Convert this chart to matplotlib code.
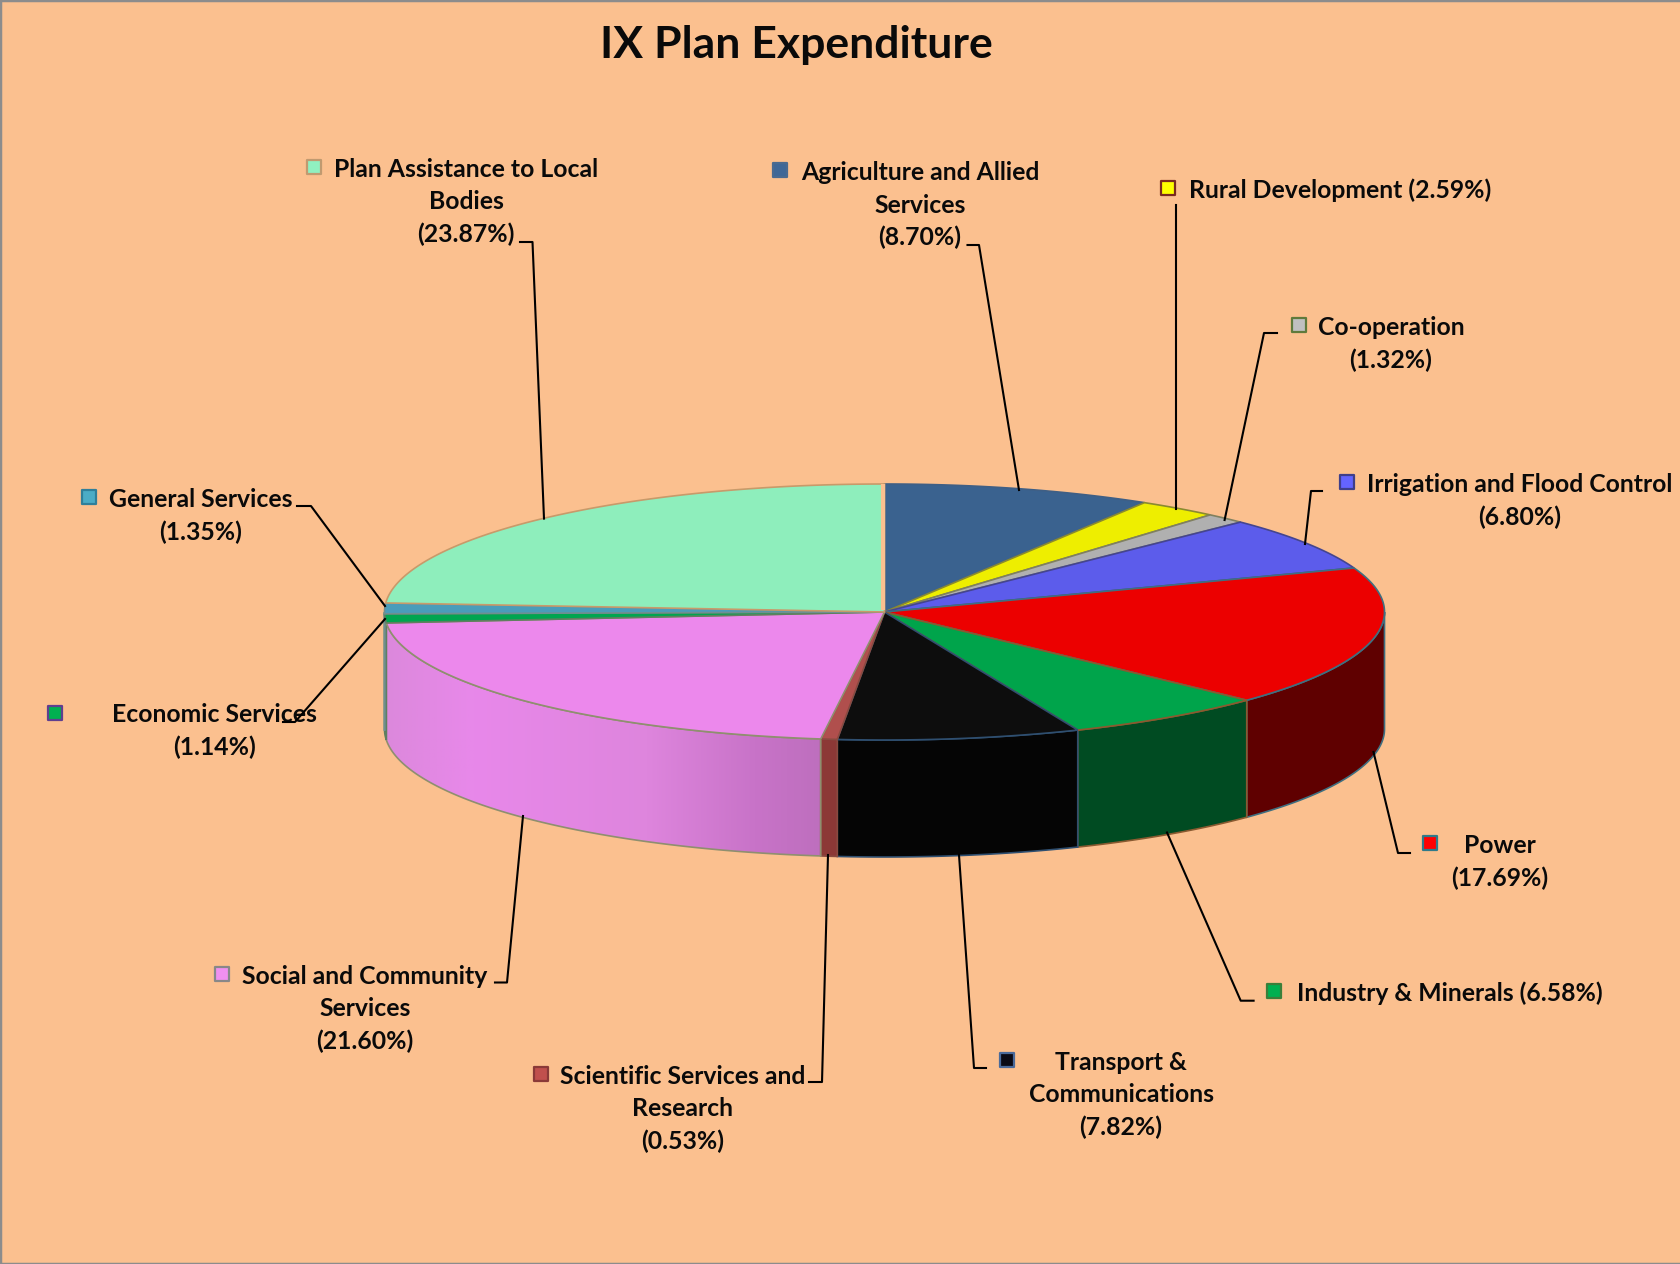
import numpy as np
import matplotlib
matplotlib.use("Agg")
import matplotlib.pyplot as plt
from matplotlib.colors import LinearSegmentedColormap
from matplotlib.patches import Polygon

# ==========================================
# 1. DATA
# ==========================================
categories = ["Agriculture and Allied Services", "Rural Development", "Co-operation",
              "Irrigation and Flood Control", "Power", "Industry & Minerals",
              "Transport & Communications", "Scientific Services and Research",
              "Social and Community Services", "Economic Services", "General Services",
              "Plan Assistance to Local Bodies"]
shares = [8.70, 2.59, 1.32, 6.80, 17.69, 6.58, 7.82, 0.53, 21.60, 1.14, 1.35, 23.87]

label_lines = [["Agriculture and Allied", "Services", "(8.70%)"],
               ["Rural Development (2.59%)"],
               ["Co-operation", "(1.32%)"],
               ["Irrigation and Flood Control", "(6.80%)"],
               ["Power", "(17.69%)"],
               ["Industry & Minerals (6.58%)"],
               ["Transport &", "Communications", "(7.82%)"],
               ["Scientific Services and", "Research", "(0.53%)"],
               ["Social and Community", "Services", "(21.60%)"],
               ["Economic Services", "(1.14%)"],
               ["General Services", "(1.35%)"],
               ["Plan Assistance to Local", "Bodies", "(23.87%)"]]

# ==========================================
# 2. STYLE & LAYOUT (pixel coordinates)
# ==========================================
BG = "#fbc08f"
top_colors = ["#3a628f", "#eeee00", "#b0b0b0", "#5c5ceb", "#ec0000", "#00a44b",
              "#0d0d0d", "#b04f4d", "#ec88ec", "#00a550", "#4a9cba", "#8eeebc"]
wall_colors = ["#2a4668", "#8a8a00", "#777777", "#36368a", "#5f0000", "#004b22",
               "#050505", "#8c3836", "#e088e2", "#2b7055", "#2b6e85", "#5fa080"]
edge_colors = ["#3f5f85", "#8a8a30", "#808060", "#45458f", "#3f6f80", "#8a5a30",
               "#2f4f70", "#8a4a40", "#8f8f6f", "#5f7f60", "#6f8f90", "#c89a6a"]
key_faces = ["#3f6797", "#ffff00", "#c0c0c0", "#6464ff", "#ff0000", "#00b050",
             "#0a0a14", "#c0504d", "#f090f0", "#00b050", "#4bacc6", "#90f0c0"]
key_edges = ["#4a6a90", "#7a2a20", "#5f7a3c", "#3f3f8a", "#2f7a8a", "#3a7f3a",
             "#4a6a9a", "#8a3a38", "#888888", "#5f3f8f", "#2f7f9a", "#c09a70"]

cx, cy, rx, ry, depth = 884.5, 612, 500, 128, 117

label_x = [920, 1340, 1391, 1520, 1500, 1449.6, 1121, 682.5, 365, 214, 200.5, 466]
label_y = [173, 190, 327.5, 484.5, 845.5, 993.5, 1062.5, 1076.5, 976.5, 715, 499.5, 169.5]
line_gap = 32.4
key_x = [780, 1168, 1298.5, 1347, 1430, 1274, 1007, 541, 222, 54.6, 89, 314]
key_y = [170, 187.5, 324.6, 482, 843, 991, 1060, 1073.5, 974, 712.5, 497, 167]
leaders = [[(967.5, 245), (979, 245), (1019, 490)],
           [(1176.4, 205), (1176.4, 509)],
           [(1277, 333), (1264, 333), (1224.6, 520)],
           [(1322, 491), (1311, 491), (1305, 544)],
           [(1410, 853), (1398, 853), (1373.5, 752)],
           [(1253.6, 1000.7), (1240.7, 1000.7), (1167, 832.5)],
           [(986, 1068), (974, 1068), (959, 855)],
           [(809, 1082), (822, 1082), (828, 855)],
           [(495, 982.5), (507, 982.5), (523, 816)],
           [(283, 722), (295, 722), (385, 619)],
           [(297, 506), (311, 506), (385, 606)],
           [(520, 242), (532.5, 242), (544, 518.6)]]


def rim(t0, t1, n=120):
    # points on the top ellipse, angles clockwise from 12 o'clock
    t = np.radians(np.linspace(t0, t1, n))
    return np.column_stack([cx + rx * np.sin(t), cy - ry * np.cos(t)])


# ==========================================
# 3. FIGURE
# ==========================================
plt.rcParams['font.family'] = ['Lato', 'DejaVu Sans']
fig = plt.figure(figsize=(16.8, 12.64), dpi=100, facecolor=BG)
ax = fig.add_axes([0, 0, 1, 1], facecolor=BG)
ax.set_xticks([])
ax.set_yticks([])
for s in ax.spines.values():
    s.set_color("#8c8c8c")
    s.set_linewidth(2.5)
ax.spines['right'].set_visible(False)

edges = np.cumsum([0] + shares) / sum(shares) * 360

# side walls, only the front half of the disc shows
for i in range(len(shares)):
    t0, t1 = max(edges[i], 90), min(edges[i + 1], 270)
    if t1 <= t0:
        continue
    arc = rim(t0, t1)
    wall = np.vstack([arc, arc[::-1] + [0, depth]])
    if categories[i].startswith("Social"):
        grad = LinearSegmentedColormap.from_list(
            "wall", [(0, "#dc88dc"), (0.2, "#e888ea"), (0.6, "#de85dd"), (0.85, "#c873c8"), (1, "#be6fbe")])
        patch = Polygon(wall, closed=True, facecolor="none", edgecolor=edge_colors[i], lw=1.2, zorder=2)
        ax.add_patch(patch)
        im = ax.imshow(np.linspace(0, 1, 256)[None, :], cmap=grad, aspect='auto', zorder=1,
                       extent=(wall[:, 0].min(), wall[:, 0].max(), wall[:, 1].max(), wall[:, 1].min()))
        im.set_clip_path(patch)
    else:
        ax.add_patch(Polygon(wall, closed=True, facecolor=wall_colors[i],
                             edgecolor=edge_colors[i], lw=1.2, zorder=2))

# top faces
for i in range(len(shares)):
    arc = rim(edges[i], edges[i + 1])
    ax.add_patch(Polygon(np.vstack([[cx, cy], arc]), closed=True, facecolor=top_colors[i],
                         edgecolor=edge_colors[i], lw=1.2, zorder=3))

# small gap between the last slice and the first one
ax.plot([cx - 2, cx - 2], [cy - ry, cy - 2], color=BG, lw=3, zorder=4, solid_capstyle='butt')

# leader lines
for pts in leaders:
    ax.plot([p[0] for p in pts], [p[1] for p in pts], color="black", lw=1.5, zorder=6)

# keys and labels
for i in range(len(shares)):
    ax.scatter(key_x[i], key_y[i], marker="s", s=105, facecolor=key_faces[i],
               edgecolor=key_edges[i], linewidth=1.6, zorder=5)
    for j, line in enumerate(label_lines[i]):
        ax.text(label_x[i], label_y[i] + j * line_gap, line, ha="center", va="center",
                fontsize=17.8, fontweight="bold", color="#0a0a0a", zorder=5)

ax.text(796, 45, "IX Plan Expenditure", ha="center", va="center", fontsize=32,
        fontweight="bold", color="#0a0a0a")

ax.set_xlim(0, 1680)
ax.set_ylim(1264, 0)
fig.savefig("out.png", dpi=100, facecolor=BG)
